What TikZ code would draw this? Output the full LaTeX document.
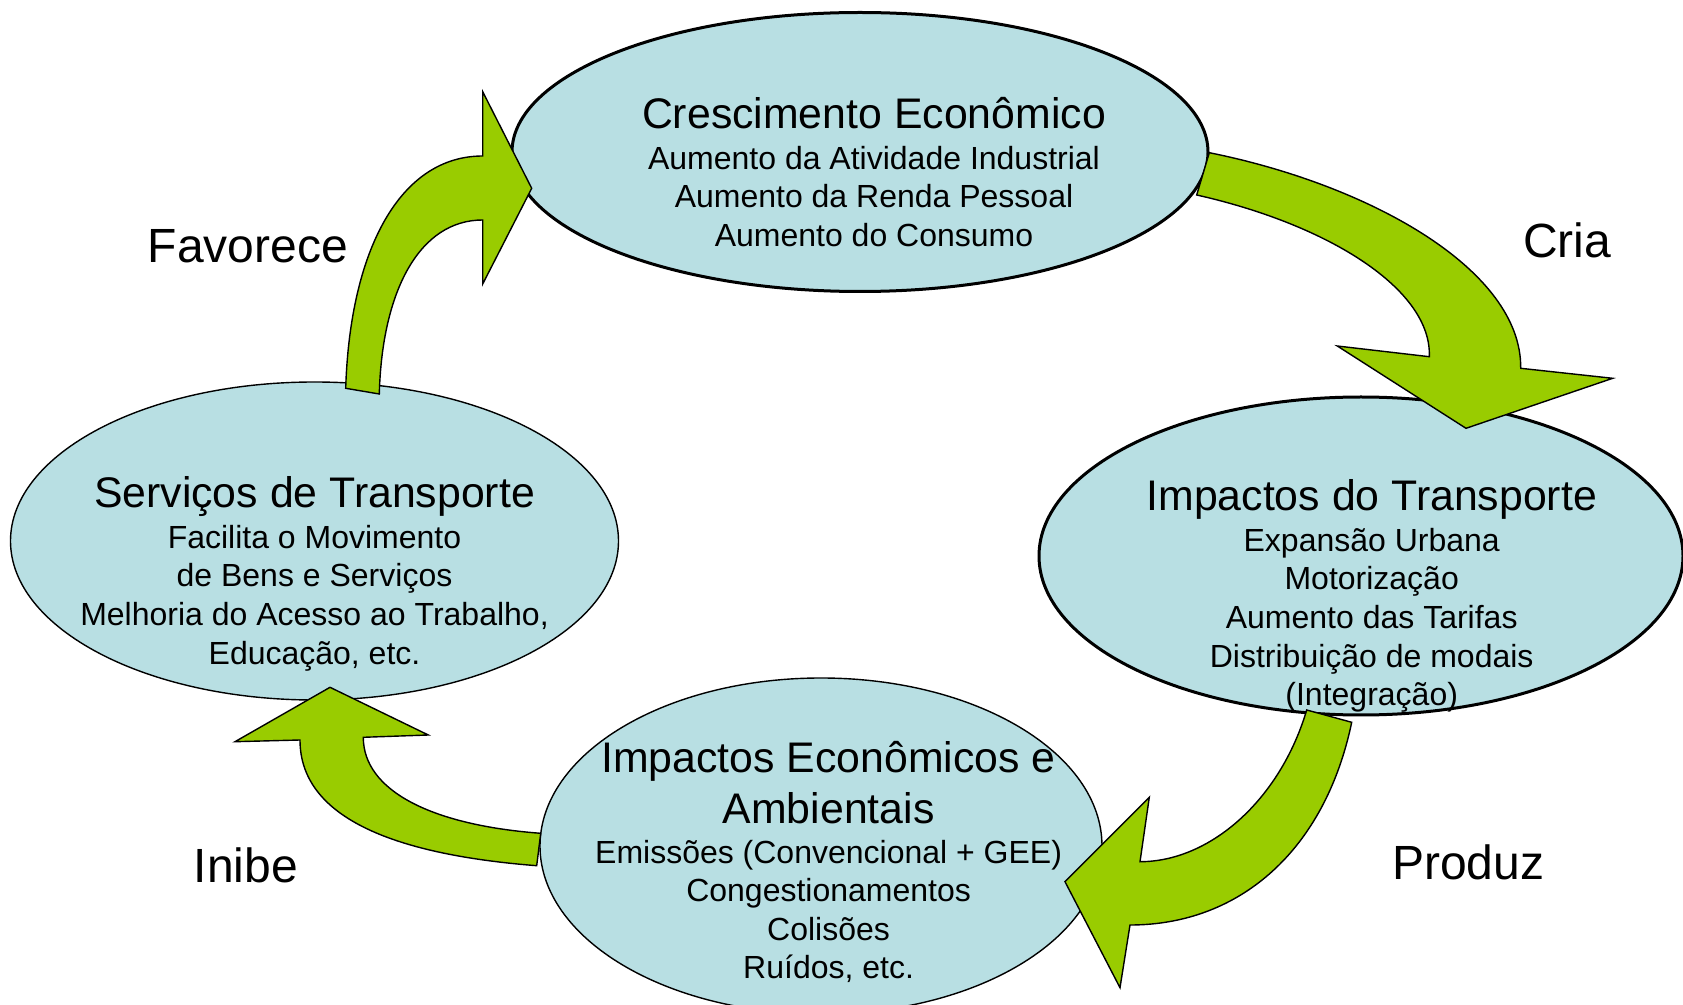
\documentclass[tikz,border=0pt]{standalone}
\usepackage{fontspec}
\setmainfont{Liberation Sans}
\usetikzlibrary{shapes.geometric}
\definecolor{ellblue}{RGB}{184,223,227}
\definecolor{arrgreen}{RGB}{153,204,0}
\tikzset{
  ell/.style={ellipse, draw=black, fill=ellblue, inner sep=0pt},
  thickell/.style={ell, line width=1.5pt},
  thinell/.style={ell, line width=0.7pt},
  ttl/.style={font=\fontsize{21.4}{25.2}\selectfont, align=center, inner sep=0pt},
  body/.style={font=\fontsize{16}{19.3}\selectfont, align=center, inner sep=0pt},
  lbl/.style={font=\fontsize{24}{28}\selectfont, inner sep=0pt},
  blockarrow/.style={draw=black, fill=arrgreen, line width=0.7pt, line join=miter}
}
\begin{document}
\begin{tikzpicture}[x=0.5pt,y=-0.5pt]
\useasboundingbox (0,0) rectangle (1683,1005);
% ellipses
\node[thickell, minimum width=348pt, minimum height=139.5pt] (eco) at (860,152) {};
\node[thickell, minimum width=322pt, minimum height=159pt] (imp) at (1361,556) {};
\node[thinell, minimum width=304pt, minimum height=159pt] (serv) at (314.5,541) {};
\node[thinell, minimum width=281pt, minimum height=168pt] (amb) at (821,846) {};
% block arrows
\path[blockarrow] (345.7,388.3) .. controls (350,250) and (400,156) .. (482.7,156)
  -- (482.7,91.7) -- (531.7,188.3) -- (482.7,284) -- (482.7,220)
  .. controls (420,220) and (382,290) .. (379.3,394) -- cycle;
\path[blockarrow] (1209.3,152.7) .. controls (1370,185) and (1522,270) .. (1520.7,368.3)
  -- (1612.7,378.3) -- (1466,428.3) -- (1337.3,346) -- (1429.3,356.7)
  .. controls (1432,290) and (1330,225) .. (1196.7,195) -- cycle;
\path[blockarrow] (1351.7,722.3) .. controls (1325,850) and (1240,925) .. (1130,925)
  -- (1120,987.7) -- (1065,881.7) -- (1149.3,797.3) -- (1140,861.7)
  .. controls (1210,861.7) and (1280,800) .. (1306.7,710) -- cycle;
\path[blockarrow] (536.7,865.7) .. controls (400,855) and (300,820) .. (300,740)
  -- (235,741.7) -- (330,687.3) -- (428.3,735) -- (363.3,737.3)
  .. controls (363.3,790) and (430,825) .. (540.7,833.3) -- cycle;
% texts
\node[ttl] (ecoT) at (874,112.7) {Crescimento Econômico};
\node[body] (ecoB) at (874,196.4) {Aumento da Atividade Industrial\\Aumento da Renda Pessoal\\Aumento do Consumo};
\node[ttl] (impT) at (1371.7,499.5) {Impactos do Transporte};
\node[body] (impB) at (1371.7,620.3) {Expansão Urbana\\Motorização\\Aumento das Tarifas\\Distribuição de modais\\(Integração)};
\node[ttl] (servT) at (314.5,496.8) {Serviços de Transporte};
\node[body] (servB) at (314.5,598) {Facilita o Movimento\\de Bens e Serviços\\Melhoria do Acesso ao Trabalho,\\Educação, etc.};
\node[ttl] (ambT) at (828.6,782.5) {Impactos Econômicos e\\Ambientais};
\node[body] (ambB) at (828.6,911.5) {Emissões (Convencional + GEE)\\Congestionamentos\\Colisões\\Ruídos, etc.};
% labels
\node[lbl] (favorece) at (247.9,245.8) {Favorece};
\node[lbl] (cria) at (1567,240.4) {Cria};
\node[lbl] (produz) at (1468.3,861.9) {Produz};
\node[lbl] (inibe) at (245.8,865.1) {Inibe};
\end{tikzpicture}
\end{document}
